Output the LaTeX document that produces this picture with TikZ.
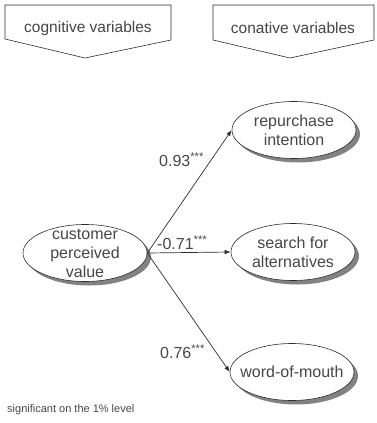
\documentclass[tikz,border=0pt]{standalone}
\usepackage{fontspec}
\setmainfont{Liberation Sans}
\usetikzlibrary{shapes.geometric,shadows,arrows.meta}

\definecolor{ink}{RGB}{70,70,70}
\definecolor{edge}{RGB}{45,45,45}
\definecolor{shade}{RGB}{130,130,130}

\tikzset{
  banner/.style={draw=edge, line width=0.6pt, fill=white},
  bannertext/.style={text=ink, font=\fontsize{15.5}{19}\selectfont, inner sep=0pt},
  construct/.style={ellipse, draw=edge, line width=0.6pt, fill=white,
    minimum width=124pt, minimum height=57pt, inner sep=0pt,
    drop shadow={shadow xshift=4pt, shadow yshift=-4pt, fill=shade, opacity=1}},
  ctext/.style={text=ink, font=\fontsize{16}{19}\selectfont, align=center, inner sep=0pt},
  path/.style={draw=edge, line width=0.7pt, -{Latex[length=6pt,width=4.5pt]}},
  coef/.style={text=ink, font=\fontsize{16}{19}\selectfont, inner sep=0pt, anchor=west},
  note/.style={text=ink, font=\fontsize{11}{13}\selectfont, inner sep=0pt, anchor=west}
}

\begin{document}
\begin{tikzpicture}[x=1pt, y=-1pt]
  \useasboundingbox (0,0) rectangle (376,423);

  % column headings as downward pointing banners
  \draw[banner] (5,5) -- (171,5) -- (171,40) -- (85,58) -- (5,39) -- cycle;
  \node[bannertext] (cog) at (88,28) {cognitive variables};
  \draw[banner] (213,5) -- (374,5) -- (374,40) -- (290,58) -- (213,40) -- cycle;
  \node[bannertext] (con) at (293,28) {conative variables};

  % constructs
  \node[construct, label={[ctext]center:customer\\perceived\\value}] (cpv) at (85,253) {};
  \node[construct, label={[ctext]center:repurchase\\intention}] (rep) at (294,130) {};
  \node[construct, label={[ctext]center:search for\\alternatives}] (alt) at (293,252) {};
  \node[construct, label={[ctext]center:word-of-mouth}] (wom) at (292,372) {};

  % structural paths
  \draw[path] (cpv.east) -- (rep.west);
  \draw[path] (cpv.east) -- (alt.west);
  \draw[path] (cpv.east) -- (wom.west);

  % path coefficients
  \node[coef] (c1) at (159,160) {0.93\textsuperscript{***}};
  \node[coef] (c2) at (157,243) {-0.71\textsuperscript{***}};
  \node[coef] (c3) at (160,352) {0.76\textsuperscript{***}};

  \node[note] (sig) at (7,410) {significant on the 1\% level};
\end{tikzpicture}
\end{document}
